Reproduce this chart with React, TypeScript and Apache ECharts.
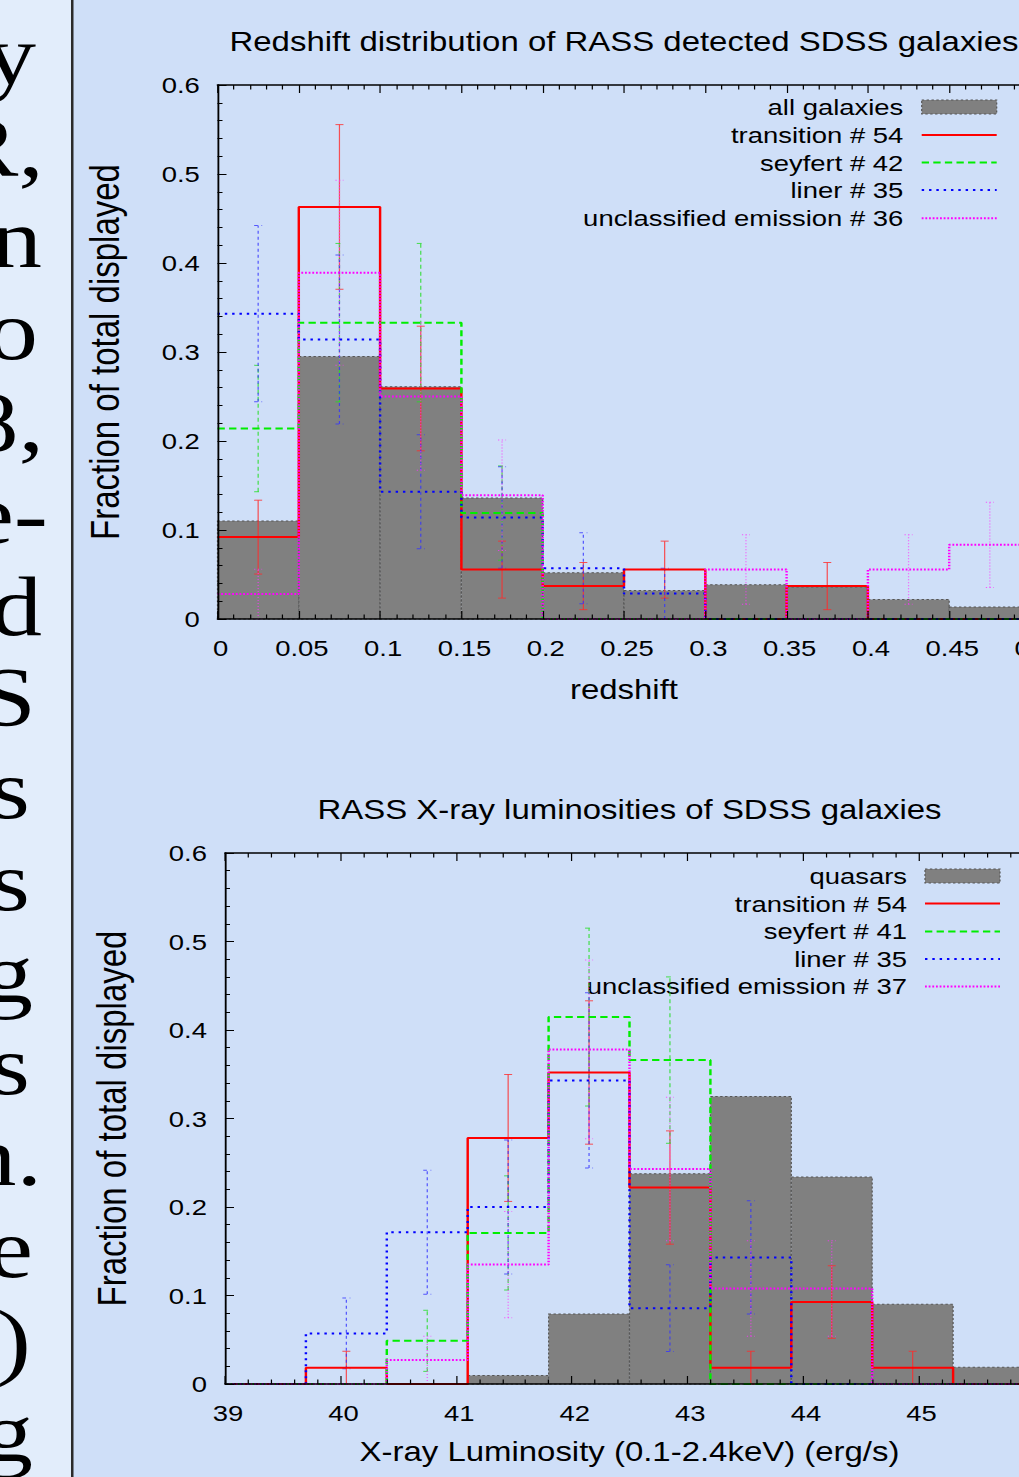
import React, { useEffect, useRef } from 'react';
import * as echarts from 'echarts';

// The reference picture is stretched horizontally; we draw in an unstretched
// frame and stretch it back with a CSS transform.
const S = 1.22;
const W = 905;
const H = 1477;
const sx = (x: number) => x / S;
const FONT = '"Liberation Sans", Arial, Helvetica, sans-serif';
const SERIF = '"Liberation Serif", "Times New Roman", serif';

// ---------- top chart: redshift ----------
const zEdges = [0, 0.05, 0.1, 0.15, 0.2, 0.25, 0.3, 0.35, 0.4, 0.45, 0.5];
const zAll = [0.11, 0.295, 0.261, 0.136, 0.052, 0.032, 0.0385, 0.036, 0.022, 0.0136];
const zTransition = [0.092, 0.463, 0.259, 0.0555, 0.037, 0.0555, 0, 0.037, 0, 0];
const zTransitionErr = [0.0415, 0.0925, 0.07, 0.032, 0.0265, 0.032, null, 0.0265, null, null];
const zSeyfert = [0.214, 0.333, 0.333, 0.119, 0, 0, 0, 0, 0, 0];
const zSeyfertErr = [0.071, 0.089, 0.089, 0.053, null, null, null, null, null, null];
const zLiner = [0.343, 0.314, 0.143, 0.114, 0.057, 0.0286, 0, 0, 0, 0];
const zLinerErr = [0.099, 0.095, 0.064, 0.057, 0.04, 0.0285, null, null, null, null];
const zUnclass = [0.028, 0.389, 0.25, 0.139, 0, 0, 0.0556, 0, 0.0556, 0.0833];
const zUnclassErr = [0.028, 0.104, 0.083, 0.062, null, null, 0.039, null, 0.039, 0.048];
const zLegend = ['all galaxies', 'transition # 54', 'seyfert # 42', 'liner # 35', 'unclassified emission # 36'];

// ---------- bottom chart: X-ray luminosity ----------
const lEdges = [39, 39.7, 40.4, 41.1, 41.8, 42.5, 43.2, 43.9, 44.6, 45.3, 46];
const lQuasars = [0, 0, 0, 0.0097, 0.079, 0.2375, 0.325, 0.234, 0.09, 0.019];
const lTransition = [0, 0.0185, 0, 0.278, 0.352, 0.222, 0.0185, 0.0926, 0.0185, 0];
const lTransitionErr = [null, 0.0185, null, 0.0717, 0.081, 0.064, 0.0185, 0.041, 0.0185, null];
const lSeyfert = [0, 0, 0.0488, 0.1707, 0.4146, 0.366, 0, 0, 0, 0];
const lSeyfertErr = [null, null, 0.0345, 0.0645, 0.1005, 0.094, null, null, null, null];
const lLiner = [0, 0.0571, 0.1714, 0.2, 0.343, 0.0857, 0.143, 0, 0, 0];
const lLinerErr = [null, 0.04, 0.07, 0.0756, 0.099, 0.049, 0.064, null, null, null];
const lUnclass = [0, 0, 0.027, 0.135, 0.378, 0.243, 0.108, 0.108, 0, 0];
const lUnclassErr = [null, null, 0.027, 0.06, 0.101, 0.081, 0.054, 0.054, null, null];
const lLegend = ['quasars', 'transition # 54', 'seyfert # 41', 'liner # 35', 'unclassified emission # 37'];

// ---------- text fragments of the neighbouring page column ----------
const sideText = ['y', 'R,', 'n', 'o', '8,', 'e-', 'd', 'S', 's', 's', 'g', 's', 'n.', 'e', ')', 'g'];
const sideRight = [36, 44, 42, 38, 44, 48, 42, 36, 30, 30, 33, 30, 42, 33, 31, 33];
const SIDE_FS = 84;

const STYLES = [
  { color: '#ff0000', dash: 'solid' as any, errColor: '#ff2a2a', errDash: null as any, width: 2 },
  { color: '#00ee00', dash: [6, 3.5], errColor: '#22dd22', errDash: [4, 3], width: 2 },
  { color: '#0000ff', dash: [2, 4], errColor: '#3333ff', errDash: [3, 3], width: 2 },
  { color: '#ff00ff', dash: [1.5, 1.5], errColor: '#ff33ff', errDash: [1, 2], width: 2 },
];

function stepData(edges: number[], vals: number[]) {
  const d = vals.map((v, i) => [edges[i], v]);
  d.push([edges[edges.length - 1], vals[vals.length - 1]]);
  return d;
}

function errData(edges: number[], vals: number[], err: (number | null)[]) {
  const out: number[][] = [];
  vals.forEach((v, i) => {
    const e = err[i];
    if (e == null) return;
    out.push([(edges[i] + edges[i + 1]) / 2, Math.max(0, v - e), v + e]);
  });
  return out;
}

function barSeries(name: string, xi: number, yi: number, edges: number[], vals: number[]) {
  const data = vals
    .map((v, i) => [edges[i], edges[i + 1], v])
    .filter((d) => d[2] > 0);
  return {
    type: 'custom',
    name,
    xAxisIndex: xi,
    yAxisIndex: yi,
    silent: true,
    z: 2,
    encode: { x: [0, 1], y: 2 },
    data,
    renderItem: (params: any, api: any) => {
      const p0 = api.coord([api.value(0), 0]);
      const p1 = api.coord([api.value(1), api.value(2)]);
      return {
        type: 'rect',
        shape: { x: p0[0], y: p1[1], width: p1[0] - p0[0], height: p0[1] - p1[1] },
        style: { fill: '#808080', stroke: '#575757', lineWidth: 1, lineDash: [2, 2] },
      };
    },
  };
}

function errSeries(name: string, xi: number, yi: number, data: number[][], st: any) {
  const cap = sx(4);
  return {
    type: 'custom',
    name: name + ' errors',
    xAxisIndex: xi,
    yAxisIndex: yi,
    silent: true,
    z: 3,
    encode: { x: 0, y: [1, 2] },
    data,
    renderItem: (params: any, api: any) => {
      const x = api.value(0);
      const lo = api.coord([x, api.value(1)]);
      const hi = api.coord([x, api.value(2)]);
      const style: any = { stroke: st.errColor, lineWidth: 1, opacity: 0.8 };
      if (st.errDash) style.lineDash = st.errDash;
      return {
        type: 'group',
        children: [
          { type: 'line', shape: { x1: lo[0], y1: lo[1], x2: hi[0], y2: hi[1] }, style },
          { type: 'line', shape: { x1: lo[0] - cap, y1: lo[1], x2: lo[0] + cap, y2: lo[1] }, style },
          { type: 'line', shape: { x1: hi[0] - cap, y1: hi[1], x2: hi[0] + cap, y2: hi[1] }, style },
        ],
      };
    },
  };
}

function lineSeries(name: string, xi: number, yi: number, edges: number[], vals: number[], st: any) {
  return {
    type: 'line',
    name,
    xAxisIndex: xi,
    yAxisIndex: yi,
    step: 'end',
    symbol: 'none',
    showSymbol: false,
    silent: true,
    z: 3,
    data: stepData(edges, vals),
    lineStyle: { color: st.color, width: st.width, type: st.dash },
  };
}

function chartSeries(
  xi: number,
  yi: number,
  edges: number[],
  labels: string[],
  gray: number[],
  sets: { vals: number[]; err: (number | null)[] }[]
) {
  const out: any[] = [barSeries(labels[0], xi, yi, edges, gray)];
  sets.forEach((s, k) => {
    out.push(errSeries(labels[k + 1], xi, yi, errData(edges, s.vals, s.err), STYLES[k]));
    out.push(lineSeries(labels[k + 1], xi, yi, edges, s.vals, STYLES[k]));
  });
  return out;
}

function xAxes(gi: number, min: number, max: number, interval: number, name: string, nameGap: number, labelMargin: number) {
  const common = {
    gridIndex: gi,
    type: 'value',
    min,
    max,
    interval,
    z: 5,
    splitLine: { show: false },
    axisLine: { show: true, onZero: false, lineStyle: { color: '#000', width: 1.5 } },
    axisTick: { show: true, inside: true, length: 8, lineStyle: { color: '#000', width: 1 } },
    minorTick: { show: true, splitNumber: 5, length: 4.5, lineStyle: { color: '#000', width: 1 } },
  };
  return [
    {
      ...common,
      position: 'bottom',
      axisLabel: { show: true, fontSize: 22.5, color: '#000', fontFamily: FONT, margin: labelMargin, padding: [0, 0, 0, 5] },
      name,
      nameLocation: 'middle',
      nameGap,
      nameTextStyle: { fontSize: 27, color: '#000', fontFamily: FONT },
    },
    { ...common, position: 'top', axisLabel: { show: false } },
  ];
}

function yAxis(gi: number, nameGap: number, labelMargin: number) {
  return {
    gridIndex: gi,
    type: 'value',
    min: 0,
    max: 0.6,
    interval: 0.1,
    z: 5,
    splitLine: { show: false },
    axisLine: { show: true, onZero: false, lineStyle: { color: '#000', width: 1.5 } },
    axisTick: { show: true, inside: true, length: sx(9), lineStyle: { color: '#000', width: 1 } },
    minorTick: { show: true, splitNumber: 5, length: sx(5), lineStyle: { color: '#000', width: 1 } },
    axisLabel: { show: true, fontSize: 22.5, color: '#000', fontFamily: FONT, margin: labelMargin },
    name: 'Fraction of total displayed',
    nameLocation: 'middle',
    nameGap,
    nameTextStyle: { fontSize: 33, color: '#000', fontFamily: FONT },
  };
}

function txt(x: number, y: number, text: string, font: string, align: string) {
  return {
    type: 'text',
    x,
    y,
    silent: true,
    style: {
      text,
      font,
      fill: '#000',
      textAlign: align,
      textVerticalAlign: 'middle',
      align,
      verticalAlign: 'middle',
    },
  };
}

function legendGraphics(labels: string[], textRight: number, iconL: number, iconR: number, rows: number[]) {
  const els: any[] = [];
  labels.forEach((lab, i) => {
    els.push(txt(sx(textRight), rows[i], lab, `22.5px ${FONT}`, 'right'));
    if (i === 0) {
      els.push({
        type: 'rect',
        silent: true,
        shape: { x: sx(iconL), y: rows[i] - 7, width: sx(iconR - iconL), height: 14 },
        style: { fill: '#808080', stroke: '#575757', lineWidth: 1, lineDash: [2, 2] },
      });
    } else {
      const st = STYLES[i - 1];
      const style: any = { stroke: st.color, lineWidth: 2 };
      if (Array.isArray(st.dash)) style.lineDash = st.dash;
      els.push({
        type: 'line',
        silent: true,
        shape: { x1: sx(iconL), y1: rows[i], x2: sx(iconR), y2: rows[i] },
        style,
      });
    }
  });
  return els;
}

function buildOption() {
  const graphic: any[] = [
    { type: 'rect', silent: true, shape: { x: 0, y: 0, width: sx(71), height: H }, style: { fill: '#e2edfb' } },
    { type: 'rect', silent: true, shape: { x: sx(71), y: 0, width: sx(2.5), height: H }, style: { fill: '#2b2b2b' } },
  ];
  sideText.forEach((t, i) => {
    const baseline = 84 + 91.8 * i;
    graphic.push(txt(sx(sideRight[i]), baseline - 0.3375 * SIDE_FS, t, `${SIDE_FS}px ${SERIF}`, 'right'));
  });
  graphic.push(...legendGraphics(zLegend, 903.3, 921.7, 996.7, [107, 135, 162.5, 190, 218.3]));
  graphic.push(...legendGraphics(lLegend, 907, 925, 1000, [876, 903.6, 931.4, 959, 986.4]));

  return {
    animation: false,
    backgroundColor: '#cfdff8',
    textStyle: { fontFamily: FONT },
    title: [
      {
        text: 'Redshift distribution of RASS detected SDSS galaxies',
        left: sx(624),
        top: 28,
        textAlign: 'center',
        padding: 0,
        textStyle: { fontSize: 27, fontWeight: 'normal', color: '#000', fontFamily: FONT },
      },
      {
        text: 'RASS X-ray luminosities of SDSS galaxies',
        left: sx(629.5),
        top: 796.5,
        textAlign: 'center',
        padding: 0,
        textStyle: { fontSize: 27, fontWeight: 'normal', color: '#000', fontFamily: FONT },
      },
    ],
    grid: [
      { left: sx(217.5), top: 85, width: sx(813), height: 534 },
      { left: sx(225), top: 853, width: sx(809), height: 531 },
    ],
    xAxis: [
      ...xAxes(0, 0, 0.5, 0.05, 'redshift', 57.5, 17.25),
      ...xAxes(1, 39, 46, 1, 'X-ray Luminosity (0.1-2.4keV) (erg/s)', 54.5, 17.75),
    ],
    yAxis: [yAxis(0, 75.7, sx(17.7)), yAxis(1, 76, sx(18))],
    series: [
      ...chartSeries(0, 0, zEdges, zLegend, zAll, [
        { vals: zTransition, err: zTransitionErr },
        { vals: zSeyfert, err: zSeyfertErr },
        { vals: zLiner, err: zLinerErr },
        { vals: zUnclass, err: zUnclassErr },
      ]),
      ...chartSeries(2, 1, lEdges, lLegend, lQuasars, [
        { vals: lTransition, err: lTransitionErr },
        { vals: lSeyfert, err: lSeyfertErr },
        { vals: lLiner, err: lLinerErr },
        { vals: lUnclass, err: lUnclassErr },
      ]),
    ],
    graphic,
  };
}

export default function App() {
  const ref = useRef<HTMLDivElement | null>(null);
  useEffect(() => {
    if (!ref.current) return;
    const chart = echarts.init(ref.current, null, { renderer: 'svg' });
    chart.setOption(buildOption() as any);
    return () => chart.dispose();
  }, []);
  return (
    <div
      style={{
        position: 'fixed',
        left: 0,
        top: 0,
        width: 1019,
        height: H,
        overflow: 'hidden',
        background: '#cfdff8',
      }}
    >
      <div
        ref={ref}
        style={{ width: W, height: H, transform: `scaleX(${S})`, transformOrigin: '0 0' }}
      />
    </div>
  );
}
